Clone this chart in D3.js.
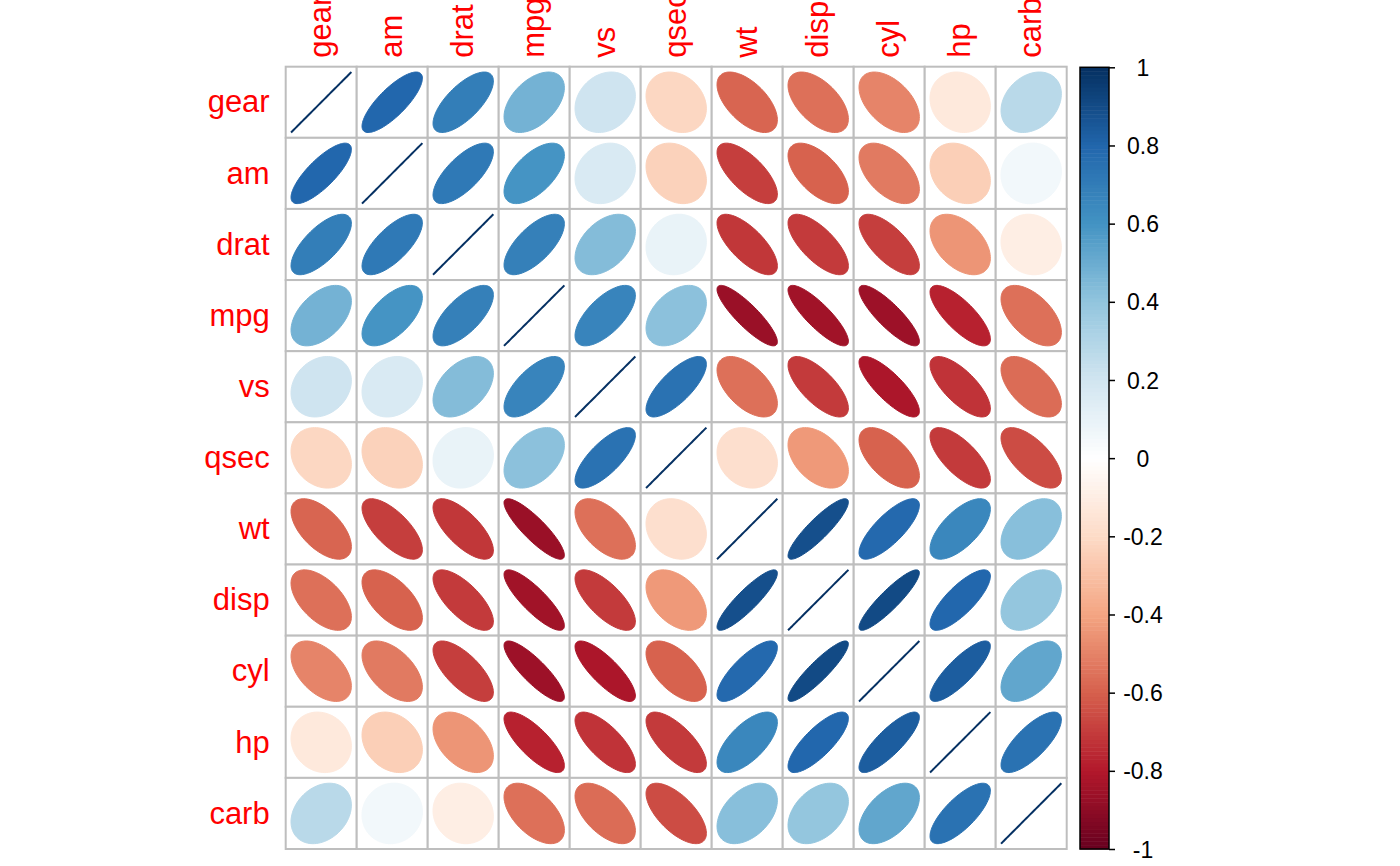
<!DOCTYPE html>
<html><head><meta charset="utf-8">
<script src="https://cdn.jsdelivr.net/npm/d3@7"></script>
<style>body{margin:0;background:#fff}</style>
</head><body>
<svg id="c" width="1400" height="866"></svg>
<script>
const vars = ["gear","am","drat","mpg","vs","qsec","wt","disp","cyl","hp","carb"];
const rGear = [1, 0.794, 0.700, 0.480, 0.206, -0.213, -0.583, -0.556, -0.493, -0.126, 0.274];
const rAm   = [0.794, 1, 0.713, 0.600, 0.168, -0.230, -0.692, -0.591, -0.523, -0.243, 0.058];
const rDrat = [0.700, 0.713, 1, 0.681, 0.440, 0.091, -0.712, -0.710, -0.700, -0.449, -0.091];
const rMpg  = [0.480, 0.600, 0.681, 1, 0.664, 0.419, -0.868, -0.848, -0.852, -0.776, -0.551];
const rVs   = [0.206, 0.168, 0.440, 0.664, 1, 0.745, -0.555, -0.710, -0.811, -0.723, -0.570];
const rQsec = [-0.213, -0.230, 0.091, 0.419, 0.745, 1, -0.175, -0.434, -0.591, -0.708, -0.656];
const rWt   = [-0.583, -0.692, -0.712, -0.868, -0.555, -0.175, 1, 0.888, 0.782, 0.659, 0.428];
const rDisp = [-0.556, -0.591, -0.710, -0.848, -0.710, -0.434, 0.888, 1, 0.902, 0.791, 0.395];
const rCyl  = [-0.493, -0.523, -0.700, -0.852, -0.811, -0.591, 0.782, 0.902, 1, 0.832, 0.527];
const rHp   = [-0.126, -0.243, -0.449, -0.776, -0.723, -0.708, 0.659, 0.791, 0.832, 1, 0.750];
const rCarb = [0.274, 0.058, -0.091, -0.551, -0.570, -0.656, 0.428, 0.395, 0.527, 0.750, 1];
const rows = [rGear, rAm, rDrat, rMpg, rVs, rQsec, rWt, rDisp, rCyl, rHp, rCarb];
const legendTicks = [-1, -0.8, -0.6, -0.4, -0.2, 0, 0.2, 0.4, 0.6, 0.8, 1];
const legendLabels = ["-1", "-0.8", "-0.6", "-0.4", "-0.2", "0", "0.2", "0.4", "0.6", "0.8", "1"];
const palette = ["#67001F","#B2182B","#D6604D","#F4A582","#FDDBC7","#FFFFFF","#D1E5F0","#92C5DE","#4393C3","#2166AC","#053061"];

const svg = d3.select("#c");
const gx0 = 285.7, gx1 = 1066.7, gy0 = 66.7, gy1 = 849;
const x = d3.scaleBand().domain(vars).range([gx0, gx1]);
const y = d3.scaleBand().domain(vars).range([gy0, gy1]);
const color = d3.scaleLinear().domain(d3.range(11).map(i => -1 + i * 0.2)).range(palette).interpolate(d3.interpolateRgb);
const N = 200;
const colIdx = r => { let i = Math.ceil((r + 1) / 2 * N) - 1; return Math.max(0, Math.min(N - 1, i)); };
const colors = d3.range(N).map(i => color(-1 + (i + 0.5) * 2 / N));

const cells = [];
rows.forEach((row, i) => row.forEach((r, j) => cells.push({row: vars[i], col: vars[j], r})));

// grid
const bw = x.bandwidth(), bh = y.bandwidth();
svg.append("g").selectAll("rect").data(cells).join("rect")
  .attr("x", d => x(d.col)).attr("y", d => y(d.row))
  .attr("width", bw).attr("height", bh)
  .attr("fill", "white").attr("stroke", "#BEBEBE").attr("stroke-width", 2);

// ellipses
function ellPath(r, cx, cy, sx, sy) {
  const a = Math.acos(Math.max(-1, Math.min(1, r))) / 2;
  const pts = d3.range(99).map(k => {
    const t = k * 2 * Math.PI / 98;
    return [cx + 0.85 * sx * Math.cos(t + a) / 2, cy - 0.85 * sy * Math.cos(t - a) / 2];
  });
  return d3.line()(pts) + "Z";
}
svg.append("g").selectAll("path").data(cells).join("path")
  .attr("d", d => ellPath(d.r, x(d.col) + bw / 2, y(d.row) + bh / 2, bw, bh))
  .attr("fill", d => colors[colIdx(d.r)])
  .attr("stroke", d => colors[colIdx(d.r)])
  .attr("stroke-width", d => d.r >= 0.999 ? 2 : 1);

// labels
const fs = 31;
svg.append("g").selectAll("text").data(vars).join("text")
  .attr("x", gx0 - 16).attr("y", d => y(d) + bh / 2).attr("dy", "0.33em")
  .attr("text-anchor", "end").attr("fill", "red")
  .style("font", `${fs}px 'Liberation Sans', Arial, sans-serif`).text(d => d);
svg.append("g").selectAll("text").data(vars).join("text")
  .attr("transform", d => `translate(${x(d) + bw / 2},${gy0 - 9}) rotate(-90)`)
  .attr("dy", "0.33em").attr("text-anchor", "start").attr("fill", "red")
  .style("font", `${fs}px 'Liberation Sans', Arial, sans-serif`).text(d => d);

// color legend
const lx0 = 1080, lx1 = 1109;
const ly = d3.scaleLinear().domain([-1, 1]).range([849, 67.3]);
const lg = svg.append("g");
lg.selectAll("rect").data(colors).join("rect")
  .attr("x", lx0).attr("width", lx1 - lx0)
  .attr("y", (c, i) => ly(-1 + (i + 1) * 2 / N))
  .attr("height", (c, i) => ly(-1 + i * 2 / N) - ly(-1 + (i + 1) * 2 / N) + 0.5)
  .attr("fill", c => c);
lg.append("rect").attr("x", lx0).attr("y", ly(1)).attr("width", lx1 - lx0).attr("height", ly(-1) - ly(1))
  .attr("fill", "none").attr("stroke", "black").attr("stroke-width", 1.5);
const axis = d3.axisRight(ly).tickValues(legendTicks).tickSize(6).tickPadding(0)
  .tickFormat((d, i) => legendLabels[i]);
const ag = lg.append("g").attr("transform", `translate(${lx1},0)`).call(axis);
ag.select(".domain").remove();
ag.selectAll(".tick line").attr("stroke", "black").attr("stroke-width", 1.5);
ag.selectAll(".tick text").attr("x", 34).attr("text-anchor", "middle").attr("dy", "0.35em")
  .style("font", "23px 'Liberation Sans', Arial, sans-serif").attr("fill", "black");
</script>
</body></html>
